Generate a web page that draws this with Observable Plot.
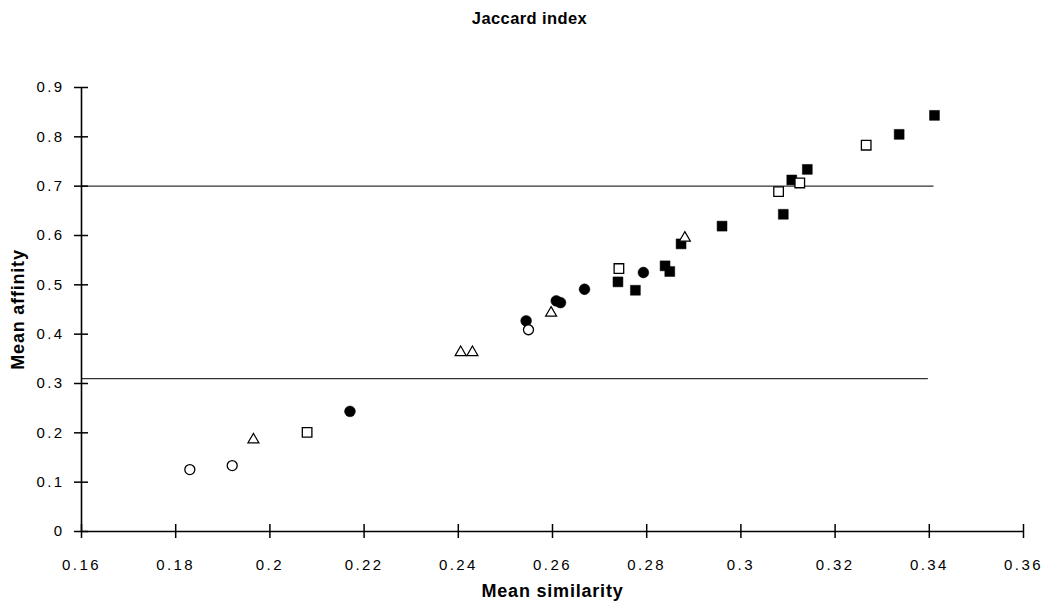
<!DOCTYPE html>
<html>
<head>
<meta charset="utf-8">
<script src="https://cdn.jsdelivr.net/npm/d3@7"></script>
<script src="https://cdn.jsdelivr.net/npm/@observablehq/plot@0.6"></script>
<style>
  body { margin: 0; background: #fff; font-family: "Liberation Sans", Arial, sans-serif; }
  #title { width: 1059px; height: 40px; line-height: 36px; text-align: center; font-weight: bold; font-size: 16.5px; letter-spacing: 0.4px; color: #000; }
  g[aria-label="y-axis tick label"] text, g[aria-label="x-axis tick label"] text { font-size: 15px; letter-spacing: 2.4px; }
  g[aria-label="y-axis label"] text, g[aria-label="x-axis label"] text { font-weight: bold; font-size: 18px; letter-spacing: 0.8px; }
</style>
</head>
<body>
<div id="title">Jaccard index</div>
<div id="chart"></div>
<script>
// Tick values
const xTicks = [0.16, 0.18, 0.2, 0.22, 0.24, 0.26, 0.28, 0.3, 0.32, 0.34, 0.36];
const yTicks = [0, 0.1, 0.2, 0.3, 0.4, 0.5, 0.6, 0.7, 0.8, 0.9];

// Series
const openCircleX = [0.183, 0.192, 0.2549];
const openCircleY = [0.1255, 0.1336, 0.409];

const filledCircleX = [0.2170, 0.2544, 0.2608, 0.2617, 0.2668, 0.2793];
const filledCircleY = [0.2435, 0.427, 0.4676, 0.464, 0.491, 0.525];

const triangleX = [0.1965, 0.2405, 0.2430, 0.2597, 0.2881];
const triangleY = [0.186, 0.363, 0.363, 0.443, 0.595];

const openSquareX = [0.2079, 0.2741, 0.3080, 0.3125, 0.3266];
const openSquareY = [0.201, 0.533, 0.689, 0.7065, 0.783];

const filledSquareX = [0.2739, 0.2776, 0.2839, 0.2849, 0.2873, 0.2960, 0.3090, 0.3108, 0.3141, 0.3336, 0.3411];
const filledSquareY = [0.506, 0.489, 0.5385, 0.527, 0.583, 0.619, 0.643, 0.7126, 0.734, 0.805, 0.8435];

// Horizontal reference lines
const refY = [0.70, 0.31];
const refX1 = [0.16, 0.16];
const refX2 = [0.341, 0.3398];

const toPts = (xs, ys) => xs.map((x, i) => ({x, y: ys[i]}));
const refLines = refY.map((y, i) => ({y, x1: refX1[i], x2: refX2[i]}));

const chart = Plot.plot({
  width: 1059,
  height: 567,
  marginTop: 47,
  marginBottom: 76,
  marginLeft: 81,
  marginRight: 36,
  style: { fontFamily: '"Liberation Sans", Arial, sans-serif', fontSize: "15px", color: "black", background: "white" },
  x: { domain: [xTicks[0], xTicks[xTicks.length - 1]] },
  y: { domain: [yTicks[0], yTicks[yTicks.length - 1]] },
  marks: [
    Plot.ruleY(refLines, { y: "y", x1: "x1", x2: "x2", stroke: "#333", strokeWidth: 1.2 }),
    Plot.ruleX([xTicks[0]], { y1: yTicks[0], y2: yTicks[yTicks.length - 1], stroke: "black", strokeWidth: 1.6 }),
    Plot.ruleY([yTicks[0]], { x1: xTicks[0], x2: xTicks[xTicks.length - 1], stroke: "black", strokeWidth: 1.6 }),
    Plot.axisY({ ticks: yTicks, tickSize: 14, dx: 7, tickPadding: 10, strokeWidth: 1.5, tickFormat: d => String(d),
      label: "Mean affinity", labelAnchor: "center", labelOffset: 70, labelArrow: "none" }),
    Plot.axisX({ ticks: xTicks, tickSize: 14, dy: -7, tickPadding: 21, strokeWidth: 1.5, tickFormat: d => String(d),
      label: "Mean similarity", labelAnchor: "center", labelOffset: 65, labelArrow: "none" }),
    Plot.dot(toPts(filledSquareX, filledSquareY), { x: "x", y: "y", symbol: "square", r: 5.6, fill: "black", stroke: "black", strokeWidth: 0.5 }),
    Plot.dot(toPts(filledCircleX, filledCircleY), { x: "x", y: "y", symbol: "circle", r: 5.4, fill: "black", stroke: "black", strokeWidth: 0.5 }),
    Plot.dot(toPts(openCircleX, openCircleY), { x: "x", y: "y", symbol: "circle", r: 5, fill: "white", stroke: "black", strokeWidth: 1.3 }),
    Plot.dot(toPts(triangleX, triangleY), { x: "x", y: "y", symbol: "triangle", r: 4.1, fill: "white", stroke: "black", strokeWidth: 1.2 }),
    Plot.dot(toPts(openSquareX, openSquareY), { x: "x", y: "y", symbol: "square", r: 5.4, fill: "white", stroke: "black", strokeWidth: 1.3 })
  ]
});
document.getElementById("chart").appendChild(chart);
</script>
</body>
</html>
